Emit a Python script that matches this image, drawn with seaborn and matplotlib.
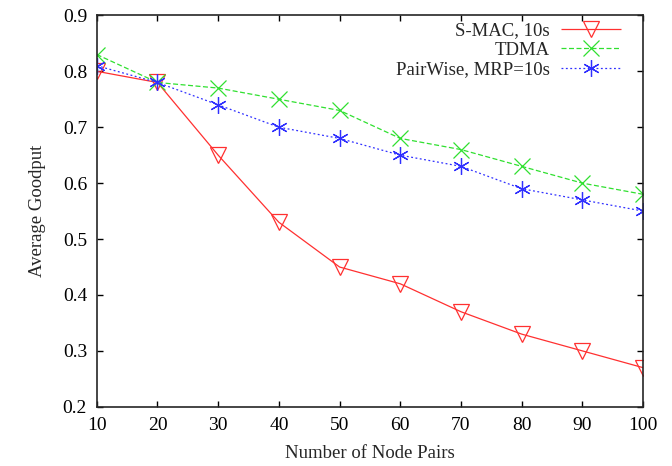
import matplotlib
matplotlib.use("Agg")
import matplotlib.pyplot as plt
import seaborn as sns
import pandas as pd

nodes = [10, 20, 30, 40, 50, 60, 70, 80, 90, 100]
smac = [0.80, 0.78, 0.65, 0.53, 0.45, 0.42, 0.37, 0.33, 0.30, 0.27]
tdma = [0.83, 0.78, 0.77, 0.75, 0.73, 0.68, 0.66, 0.63, 0.60, 0.58]
pairwise = [0.81, 0.78, 0.74, 0.70, 0.68, 0.65, 0.63, 0.59, 0.57, 0.55]
series_names = ["S-MAC, 10s", "TDMA", "PairWise, MRP=10s"]
x_ticks = [10, 20, 30, 40, 50, 60, 70, 80, 90, 100]
y_ticks = [0.2, 0.3, 0.4, 0.5, 0.6, 0.7, 0.8, 0.9]

df = pd.DataFrame({
    "x": nodes * 3,
    "y": smac + tdma + pairwise,
    "series": [series_names[0]] * 10 + [series_names[1]] * 10 + [series_names[2]] * 10,
})

sns.set_style("ticks")
plt.rcParams["font.family"] = ["Liberation Serif", "DejaVu Serif"]

fig = plt.figure(figsize=(6.72, 4.66), dpi=100)
ax = fig.add_axes([0.144, 0.127, 0.813, 0.840])

colors = ["#ff3030", "#30e030", "#3030ff"]
styles = [(0, ()), (0, (4, 2)), (0, (1.5, 2))]
markers = ["v", "x", (6, 2, 0)]
for name, c, ls, m in zip(series_names, colors, styles, markers):
    sub = df[df["series"] == name]
    sns.lineplot(data=sub, x="x", y="y", ax=ax, color=c, linestyle=ls, lw=0.9,
                 marker=m, markersize=12, markeredgewidth=0.9,
                 markerfacecolor="none" if m == "v" else c,
                 markeredgecolor=c, label=name)

ax.set_xlim(10, 100)
ax.set_ylim(0.2, 0.9)
ax.set_xticks(x_ticks)
ax.set_yticks(y_ticks)
ax.set_yticklabels([f"{v:.1f}" for v in y_ticks])
ax.tick_params(direction="in", top=True, right=True, length=4, width=1,
               labelsize=14, pad=7, colors="black")
for s in ax.spines.values():
    s.set_linewidth(1.2)
ax.set_xlabel("Number of Node Pairs", fontsize=13.5, labelpad=8)
ax.set_ylabel("Average Goodput", fontsize=13.5, labelpad=12)

leg = ax.legend(loc="upper right", bbox_to_anchor=(0.960, 0.983), frameon=False,
                markerfirst=False, fontsize=13.5, handlelength=3.2,
                borderaxespad=0, labelspacing=0.13, handletextpad=0.6, borderpad=0)
for t in leg.get_texts():
    t.set_ha("right")

fig.savefig("out.png", dpi=100)
